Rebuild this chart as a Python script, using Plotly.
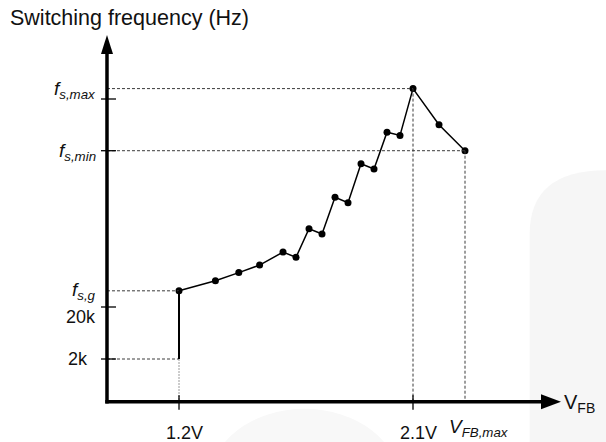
import plotly.graph_objects as go

# ---------------- data ----------------
V_POINTS = [1.2, 1.34, 1.43, 1.51, 1.6, 1.65, 1.7, 1.75, 1.8, 1.85, 1.9, 1.95, 2.0, 2.05, 2.1, 2.2, 2.3]
F_POINTS = [25.6, 29.1, 31.9, 34.5, 39.0, 37.2, 47.1, 45.3, 58.0, 56.1, 69.6, 67.8, 80.5, 79.4, 95.6, 83.1, 74.1]

V_START = 1.2        # 1.2V
V_PEAK = 2.1         # 2.1V
V_FB_MAX = 2.3       # V_FB,max
F_2K = 2.0           # 2k
F_20K = 20.0         # 20k
FS_G = 25.6          # f_s,g
FS_MIN = 74.1        # f_s,min
FS_MAX = 95.6        # f_s,max
FS_MAX_TICK = 92.0   # tick mark drawn just below f_s,max

X_TICK_LABELS = ["1.2V", "2.1V"]
Y_TICK_LABELS = ["2k", "20k"]

# ---------------- scale helpers ----------------
X_RANGE = [0.5115, 2.8423]
Y_RANGE = [-26.73, 126.27]
W, H = 606, 442
SX = W / (X_RANGE[1] - X_RANGE[0])   # px per volt
SY = H / (Y_RANGE[1] - Y_RANGE[0])   # px per kHz


def dv(px):
    return px / SX


def dk(px):
    return px / SY


V0 = 0.923    # y-axis position
F0 = -12.8    # x-axis position

BLACK = "#000000"
DASH = "#3a3a3a"
FONT = "Liberation Sans, Arial, sans-serif"

fig = go.Figure()

# ---------------- faint background decorations ----------------
shapes = []
shapes.append(dict(type="path", xref="paper", yref="paper",
                   path="M 0.874,0 L 0.874,0.47 Q 0.874,0.615 1.0,0.615 L 1.0,0 Z",
                   fillcolor="#f6f6f6", line=dict(width=0), layer="below"))
shapes.append(dict(type="circle", xref="paper", yref="paper",
                   x0=0.345, x1=0.66, y0=-0.26, y1=0.075,
                   fillcolor="#f8f8f8", line=dict(width=0), layer="below"))

# ---------------- dashed guide lines ----------------
def seg(x0, y0, x1, y1, color=DASH, width=1, dash="3px,2px"):
    shapes.append(dict(type="line", xref="x", yref="y", x0=x0, y0=y0, x1=x1, y1=y1,
                       line=dict(color=color, width=width, dash=dash)))

seg(V0, FS_MAX, V_PEAK, FS_MAX)
seg(V0, FS_MIN, V_FB_MAX, FS_MIN)
seg(V0, FS_G, V_START, FS_G)
seg(V0, F_2K, V_START, F_2K)
seg(V_PEAK, FS_MAX, V_PEAK, F0)
seg(V_FB_MAX, FS_MIN, V_FB_MAX, F0)
seg(V_START, F_2K, V_START, F0, color="#9a9a9a", width=1, dash="2px,1px")
# solid jump at 1.2V
seg(V_START, F_2K, V_START, FS_G, color=BLACK, width=2, dash="solid")

# ---------------- axes with arrows ----------------
seg(V0, F0 - dk(1.7), V0, Y_RANGE[1] - dk(52), color=BLACK, width=3.5, dash="solid")
seg(V0 - dv(1.7), F0, X_RANGE[0] + dv(543), F0, color=BLACK, width=3.5, dash="solid")

tip_y = Y_RANGE[1] - dk(35)
base_y = Y_RANGE[1] - dk(54)
shapes.append(dict(type="path", xref="x", yref="y",
                   path=f"M {V0 - dv(6)},{base_y} L {V0},{tip_y} L {V0 + dv(6)},{base_y} Z",
                   fillcolor=BLACK, line=dict(width=0)))
tip_x = X_RANGE[0] + dv(561)
base_x = X_RANGE[0] + dv(541)
shapes.append(dict(type="path", xref="x", yref="y",
                   path=f"M {base_x},{F0 - dk(7.5)} L {tip_x},{F0} L {base_x},{F0 + dk(7.5)} Z",
                   fillcolor=BLACK, line=dict(width=0)))

# tick marks
for f in [F_2K, F_20K, FS_MIN, FS_MAX_TICK]:
    seg(V0 - dv(6), f, V0 + dv(9), f, color=BLACK, width=1.3, dash="solid")
for v in [V_START, V_PEAK]:
    seg(v, F0 - dk(8), v, F0 + dk(6.5), color=BLACK, width=1.3, dash="solid")

# ---------------- data line ----------------
fig.add_trace(go.Scatter(x=V_POINTS, y=F_POINTS, mode="lines+markers",
                         line=dict(color=BLACK, width=1.5),
                         marker=dict(color=BLACK, size=7),
                         hoverinfo="skip", showlegend=False))

# ---------------- labels ----------------
ann = []
LBL = 18


def label(text, x, y, xanchor="right", yanchor="middle", size=LBL, xref="x", yref="y"):
    ann.append(dict(text=text, x=x, y=y, xref=xref, yref=yref, xanchor=xanchor, yanchor=yanchor,
                    showarrow=False, font=dict(family=FONT, size=size, color="#111111")))

xl = V0 - dv(10)
label("<i>f</i><sub><i>s,max</i></sub>", xl + dv(1), FS_MAX - dk(1), size=19)
label("<i>f</i><sub><i>s,min</i></sub>", xl + dv(1), FS_MIN - dk(1.5), size=19)
label("<i>f</i><sub><i>s,g</i></sub>", xl + dv(1), FS_G, size=19)
label(Y_TICK_LABELS[1], xl + dv(1), F_20K - dk(10))
label(Y_TICK_LABELS[0], V0 - dv(17), F_2K)

ylab = F0 - dk(31)
label(X_TICK_LABELS[0], V_START + dv(5), ylab, xanchor="center")
label(X_TICK_LABELS[1], V_PEAK + dv(5), ylab, xanchor="center")
label("<i>V</i><sub><i>FB,max</i></sub>", V_FB_MAX - dv(18), Y_RANGE[0] + dk(0.5),
      xanchor="left", yanchor="bottom", size=19)
label("V<sub>FB</sub>", X_RANGE[0] + dv(562), F0 - dk(2), xanchor="left", size=20)

label("Switching frequency (Hz)", 8 / W, 1 - 18 / H, xanchor="left", size=21.5,
      xref="paper", yref="paper")

fig.update_layout(
    width=W, height=H,
    margin=dict(l=0, r=0, t=0, b=0),
    paper_bgcolor="white", plot_bgcolor="rgba(0,0,0,0)",
    xaxis=dict(range=X_RANGE, visible=False, fixedrange=True),
    yaxis=dict(range=Y_RANGE, visible=False, fixedrange=True),
    shapes=shapes, annotations=ann, showlegend=False,
)

fig.write_html("out.html", config={"displayModeBar": False},
               post_script="document.body.style.margin='0px';document.body.style.overflow='hidden';")
